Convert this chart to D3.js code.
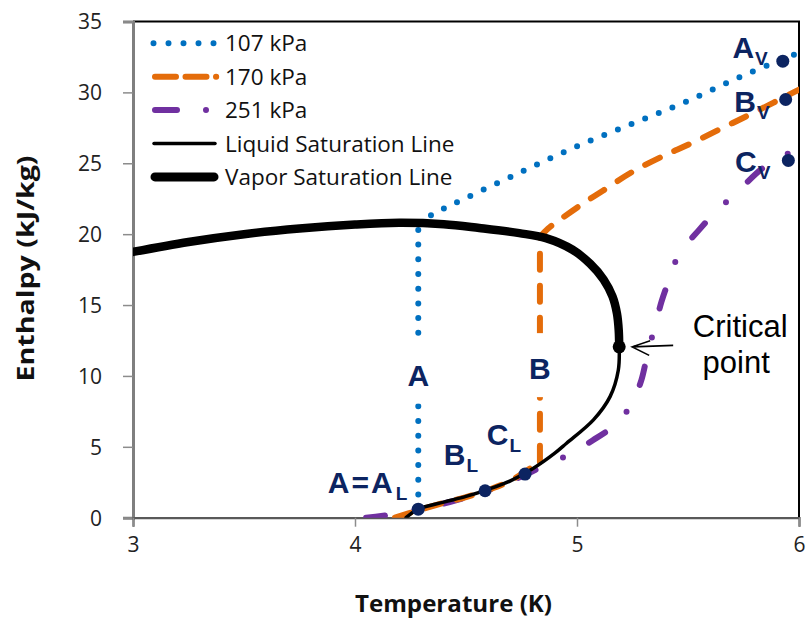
<!DOCTYPE html>
<html><head><meta charset="utf-8">
<script src="https://cdn.jsdelivr.net/npm/d3@7"></script>
<style>body{margin:0;background:#fff}</style>
</head><body><svg id="c" width="808" height="619"></svg>
<script>
// ---------- data ----------
const xTicks = [3, 4, 5, 6];
const yTicks = [0, 5, 10, 15, 20, 25, 30, 35];
const xTitle = "Temperature (K)";
const yTitle = "Enthalpy (kJ/kg)";

const vaporT = [3.0, 3.25, 3.5, 3.75, 4.0, 4.2, 4.4, 4.56, 4.74, 4.86, 4.98, 5.06, 5.12, 5.16, 5.18, 5.188, 5.19];
const vaporH = [18.75, 19.45, 20.0, 20.4, 20.68, 20.8, 20.7, 20.43, 20.07, 19.72, 18.9, 17.9, 16.8, 15.6, 14.4, 13.2, 12.05];

const liquidT = [4.23, 4.285, 4.4, 4.5, 4.6, 4.7, 4.8, 4.9, 4.953, 5.074, 5.149, 5.186, 5.19];
const liquidH = [0, 0.6, 1.1, 1.5, 2.0, 2.6, 3.45, 4.55, 5.25, 6.9, 8.54, 10.4, 12.05];

// 107 kPa: boiling (vertical) then vapor
const p107BoilT = [4.285, 4.285];
const p107BoilH = [0.6, 20.8];
const p107VapT = [4.285, 4.35, 4.5, 4.75, 5.0, 5.25, 5.5, 5.75, 6.0];
const p107VapH = [20.8, 21.4, 22.55, 24.4, 26.2, 27.8, 29.4, 31.2, 32.8];

// 170 kPa: liquid, boiling, vapor
const p170LiqT = [4.18, 4.28, 4.4, 4.5, 4.6, 4.7, 4.833];
const p170LiqH = [0, 0.5, 1.05, 1.45, 1.95, 2.6, 3.95];
const p170BoilT = [4.833, 4.833];
const p170BoilH = [3.95, 19.8];
const p170VapT = [4.833, 4.87, 4.93, 5.04, 5.12, 5.25, 5.4, 5.5, 5.65, 5.8, 6.0];
const p170VapH = [19.8, 20.4, 21.1, 22.3, 23.1, 24.4, 25.6, 26.3, 27.45, 28.6, 30.2];

// 251 kPa (supercritical)
const p251T = [4.05, 4.2, 4.3, 4.45, 4.6, 4.75, 4.85, 4.97, 5.07, 5.16, 5.22, 5.26, 5.29, 5.31, 5.33, 5.35, 5.38, 5.42, 5.46, 5.55, 5.62, 5.71, 5.84, 5.9, 6.0];
const p251H = [0, 0.3, 0.65, 1.2, 1.95, 2.9, 3.65, 4.5, 5.45, 6.4, 7.4, 8.5, 9.7, 11.0, 12.3, 13.4, 15.2, 17.0, 18.6, 20.3, 21.5, 22.8, 24.7, 25.2, 26.2];

// state points
const stateT = [4.285, 4.586, 4.766, 5.927, 5.94, 5.952];
const stateH = [0.6, 1.9, 3.08, 32.2, 29.5, 25.2];
const stateMain = ["A=A", "B", "C", "A", "B", "C"];
const stateSub = ["L", "L", "L", "V", "V", "V"];

const critT = 5.19, critH = 12.05;
const critLabel = ["Critical", "point"];

const midLabels = ["A", "B"];
const midT = [4.285, 4.833];
const midH = [10.1, 10.55];

const legendLabels = ["107 kPa", "170 kPa", "251 kPa", "Liquid Saturation Line", "Vapor Saturation Line"];

// ---------- styles ----------
const C_BLUE = "#0070C0", C_ORANGE = "#E46C0A", C_PURPLE = "#7030A0", C_NAVY = "#0C2461";
const st = {
  p107: {stroke: C_BLUE, w: 6, dash: "0 14.7"},
  p170: {stroke: C_ORANGE, w: 6, dash: "16 16"},
  p251: {stroke: C_PURPLE, w: 6, dash: "19 30 0 30"},
  liq: {stroke: "#000", w: 3.5, dash: null},
  vap: {stroke: "#000", w: 8.5, dash: null}
};

// ---------- chart ----------
const svg = d3.select("#c");
const L = 133, R = 799, T0 = 21.5, B0 = 517.7;
const x = d3.scaleLinear().domain([3, 6]).range([L, R]);
const y = d3.scaleLinear().domain([0, 35]).range([B0, T0]);

svg.append("defs").append("clipPath").attr("id", "clip")
  .append("rect").attr("x", L).attr("y", T0).attr("width", R - L).attr("height", B0 - T0);

// frame top & right
svg.append("path").attr("d", `M${L},${T0}H${R}V${B0}`).attr("fill", "none")
  .attr("stroke", "#000").attr("stroke-width", 2);

// axes
const yAxis = d3.axisLeft(y).tickValues(yTicks).tickSize(10).tickPadding(21).tickFormat(d3.format("d"));
const xAxis = d3.axisBottom(x).tickValues(xTicks).tickSize(9).tickPadding(14).tickFormat(d3.format("d"));
const gy = svg.append("g").attr("transform", `translate(${L},0)`).call(yAxis);
const gx = svg.append("g").attr("transform", `translate(0,${B0})`).call(xAxis);
[gx, gy].forEach(g => {
  g.selectAll(".tick line").attr("stroke", "#8c8c8c").attr("stroke-width", 1.5);
  g.selectAll(".tick text").attr("font-family", "Open Sans, sans-serif").attr("font-size", 21).attr("fill", "#222");
});
gy.select(".domain").attr("stroke", "#7f7f7f").attr("stroke-width", 3);
gx.select(".domain").attr("stroke", "#595959").attr("stroke-width", 2.2);
gy.selectAll(".tick text").attr("dy", "0.35em");
gx.selectAll(".tick text").attr("dy", "0.55em");

svg.append("text").attr("x", 453.5).attr("y", 612)
  .attr("text-anchor", "middle").attr("font-family", "Open Sans, sans-serif")
  .attr("font-weight", "bold").attr("font-size", 24).attr("fill", "#111")
  .attr("textLength", 197).attr("lengthAdjust", "spacingAndGlyphs").text(xTitle);
svg.append("text").attr("transform", `translate(34,268.5) rotate(-90)`)
  .attr("text-anchor", "middle").attr("font-family", "Open Sans, sans-serif")
  .attr("font-weight", "bold").attr("font-size", 24).attr("fill", "#111")
  .attr("textLength", 226).attr("lengthAdjust", "spacingAndGlyphs").text(yTitle);

const plot = svg.append("g").attr("clip-path", "url(#clip)");
const zip = (ts, hs) => ts.map((t, i) => [t, hs[i]]);
const curveLine = d3.line().x(d => x(d[0])).y(d => y(d[1])).curve(d3.curveCatmullRom.alpha(0.5));
const linLine = d3.line().x(d => x(d[0])).y(d => y(d[1]));

function draw(d, s) {
  const p = plot.append("path").attr("d", d).attr("fill", "none")
    .attr("stroke", s.stroke).attr("stroke-width", s.w).attr("stroke-linecap", "round").attr("stroke-linejoin", "round");
  if (s.dash) p.attr("stroke-dasharray", s.dash);
  return p;
}

draw(curveLine(zip(p251T, p251H)), st.p251);
draw(curveLine(zip(p170LiqT, p170LiqH)), st.p170);
draw(linLine(zip(p170BoilT, p170BoilH)), st.p170);
draw(curveLine(zip(p170VapT, p170VapH)), st.p170);
draw(linLine(zip(p107BoilT, p107BoilH)), st.p107);
draw(curveLine(zip(p107VapT, p107VapH)), st.p107);
draw(curveLine(zip(vaporT, vaporH)), st.vap);
draw(curveLine(zip(liquidT, liquidH)), st.liq);

// mid labels with white background
midLabels.forEach((lab, i) => {
  const g = svg.append("g");
  const t = g.append("text").attr("x", x(midT[i])).attr("y", y(midH[i]) + 11)
    .attr("text-anchor", "middle").attr("font-family", "Liberation Sans, Arial, sans-serif")
    .attr("font-weight", "bold").attr("font-size", 30).attr("fill", C_NAVY).text(lab);
  const bb = t.node().getBBox();
  g.insert("rect", "text").attr("x", bb.x - 2).attr("y", bb.y - 19).attr("width", bb.width + 4)
    .attr("height", bb.height + 31).attr("fill", "#fff");
});

// state dots
svg.selectAll("circle.state").data(stateT).enter().append("circle")
  .attr("cx", (d, i) => x(d)).attr("cy", (d, i) => y(stateH[i])).attr("r", 6.5).attr("fill", C_NAVY);

// state labels: text ends left of dot
const lblOff = [[-11, -16], [-7, -26], [-4, -29], [-15, -3], [-16, 13], [-18, 12]];
stateMain.forEach((m, i) => {
  const t = svg.append("text").attr("text-anchor", "end")
    .attr("font-family", "Liberation Sans, Arial, sans-serif").attr("font-weight", "bold").attr("fill", C_NAVY)
    .attr("x", x(stateT[i]) + lblOff[i][0]).attr("y", y(stateH[i]) + lblOff[i][1]);
  const main = t.append("tspan").attr("font-size", 30).text(m);
  if (i === 0) main.attr("letter-spacing", 2);
  t.append("tspan").attr("font-size", 19).attr("dy", 7).attr("dx", 1).text(stateSub[i]);
});

// critical point
const cx = x(critT), cy = y(critH);
svg.append("circle").attr("cx", cx).attr("cy", cy).attr("r", 6.5).attr("fill", "#000");
svg.append("path").attr("d", `M${cx + 54},${cy - 1.5}L${cx + 13},${cy}M${cx + 31},${cy - 6}L${cx + 13},${cy}L${cx + 30},${cy + 8.5}`)
  .attr("fill", "none").attr("stroke", "#000").attr("stroke-width", 1.6);
svg.append("text").attr("x", cx + 121).attr("y", cy - 10).attr("text-anchor", "middle")
  .attr("font-family", "Liberation Sans, Arial, sans-serif").attr("font-size", 31).attr("fill", "#000").text(critLabel[0]);
svg.append("text").attr("x", cx + 117).attr("y", cy + 26).attr("text-anchor", "middle")
  .attr("font-family", "Liberation Sans, Arial, sans-serif").attr("font-size", 31).attr("fill", "#000").text(critLabel[1]);

// legend
const legStyles = [st.p107, st.p170, st.p251, st.liq, st.vap];
const legDash = ["0 15", "21 9.5", "22 29 0 30", null, null];
const legX0 = [153.5, 155, 155, 154, 155], legX1 = [214, 216.2, 216, 215, 214], legTx = 225;
legendLabels.forEach((lab, i) => {
  const yy = 43.3 + i * 33.4;
  const s = legStyles[i];
  const p = svg.append("line").attr("x1", legX0[i]).attr("x2", legX1[i]).attr("y1", yy).attr("y2", yy)
    .attr("stroke", s.stroke).attr("stroke-width", i === 4 ? 9 : s.w).attr("stroke-linecap", "round");
  if (legDash[i]) p.attr("stroke-dasharray", legDash[i]);
  svg.append("text").attr("x", legTx).attr("y", yy + 8).attr("font-family", "Open Sans, sans-serif")
    .attr("font-size", 22.5).attr("fill", "#111").text(lab);
});
</script>
</body></html>
